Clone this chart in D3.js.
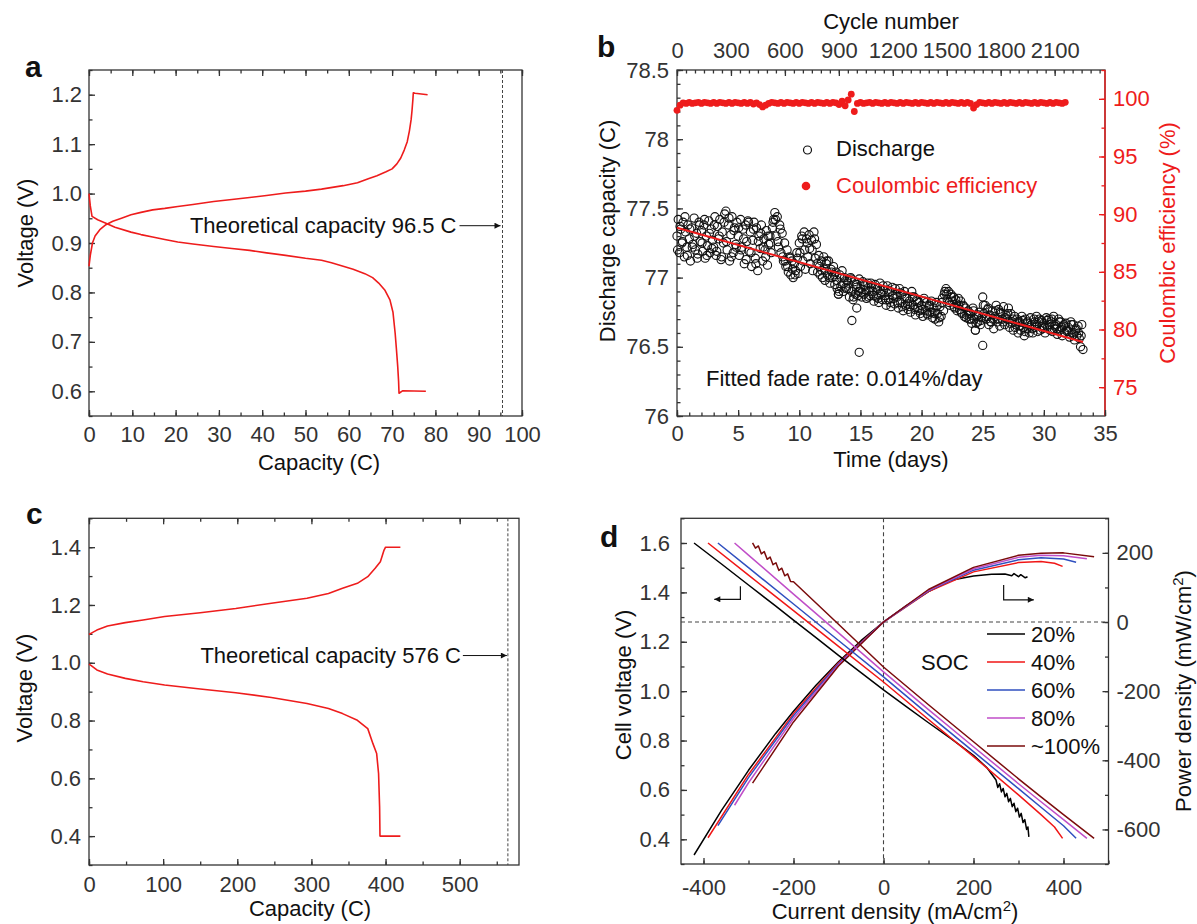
<!DOCTYPE html>
<html>
<head>
<meta charset="utf-8">
<script src="https://cdn.jsdelivr.net/npm/d3@7"></script>
<style>
  body { margin: 0; background: #fff; }
  svg { display: block; }
</style>
</head>
<body>
<div id="chart"></div>
<script>
// ---------- panel a : charge / discharge, 96.5 C cell ----------
var capACharge  = [0, 0.3, 0.8, 1.4, 2.5, 3.9, 5.5, 7.5, 9.7, 12, 14.7, 17.5, 20.5, 24, 28.8, 33, 37.1, 41, 45.4, 50, 53.7, 58.7, 62, 64.5, 66.5, 68.6, 70, 71.1, 72, 72.8, 73.5, 74.0, 74.4, 74.6, 74.8, 74.9, 75.3, 78.2];
var voltACharge = [0.853, 0.875, 0.900, 0.914, 0.927, 0.937, 0.944, 0.950, 0.957, 0.962, 0.967, 0.970, 0.974, 0.978, 0.984, 0.988, 0.992, 0.996, 1.001, 1.005, 1.009, 1.016, 1.022, 1.030, 1.036, 1.044, 1.050, 1.060, 1.072, 1.088, 1.105, 1.127, 1.150, 1.168, 1.190, 1.204, 1.203, 1.200];
var capADischarge  = [0, 0.3, 0.7, 2, 3.9, 6, 9.7, 12, 14.7, 17.5, 20.5, 24, 28.8, 33, 37.1, 41, 45.4, 50, 53.7, 56, 58.7, 61, 63.7, 65.5, 66.9, 68.3, 69.5, 70.2, 70.7, 71.0, 71.3, 71.5, 71.6, 72.4, 77.8];
var voltADischarge = [1.000, 0.975, 0.954, 0.947, 0.940, 0.932, 0.922, 0.917, 0.912, 0.907, 0.902, 0.898, 0.893, 0.889, 0.885, 0.880, 0.875, 0.869, 0.865, 0.860, 0.853, 0.847, 0.838, 0.830, 0.819, 0.805, 0.785, 0.760, 0.718, 0.685, 0.650, 0.620, 0.596, 0.601, 0.600];
var theoreticalA = 95.5;
var xTicksA = [0, 10, 20, 30, 40, 50, 60, 70, 80, 90, 100];
var yTicksA = [0.6, 0.7, 0.8, 0.9, 1.0, 1.1, 1.2];

// ---------- panel b : cycling ----------
var dischargeStep = 0.1; // days between plotted discharge points
var dischargeCap = [
  77.30,77.42,77.18,77.35,77.25,77.40,77.15,77.33,77.22,77.38,
  77.28,77.12,77.36,77.24,77.43,77.20,77.32,77.17,77.40,77.26,
  77.34,77.19,77.38,77.14,77.30,77.23,77.41,77.18,77.35,77.27,
  77.22,77.44,77.16,77.37,77.28,77.42,77.13,77.33,77.25,77.46,
  77.48,77.20,77.38,77.12,77.31,77.44,77.18,77.36,77.24,77.40,
  77.30,77.16,77.42,77.22,77.35,77.10,77.38,77.26,77.41,77.19,
  77.33,77.08,77.27,77.40,77.14,77.36,77.05,77.30,77.21,77.38,
  77.12,77.28,77.20,77.34,77.09,77.24,77.30,77.18,77.36,77.42,
  77.47,77.30,77.44,77.22,77.38,77.18,77.32,77.12,77.25,77.08,
  77.20,77.04,77.15,77.02,77.12,77.00,77.10,77.05,77.18,77.03,
  77.25,77.08,77.30,77.12,77.33,77.06,77.28,77.15,77.31,77.10,
  77.27,77.05,77.33,77.14,77.24,77.04,77.16,77.02,77.12,77.00,
  77.15,76.98,77.10,77.02,77.12,76.96,77.06,77.00,77.08,76.95,
  77.04,76.92,76.88,77.02,76.94,77.05,76.90,77.00,76.93,76.98,
  76.96,76.86,77.00,76.90,76.84,76.97,76.88,76.95,76.87,76.99,
  76.92,76.86,76.97,76.88,76.94,76.85,76.96,76.90,76.87,76.93,
  76.90,76.83,76.95,76.86,76.92,76.82,76.96,76.88,76.84,76.91,
  76.87,76.80,76.94,76.84,76.90,76.79,76.93,76.85,76.81,76.88,
  76.86,76.78,76.92,76.82,76.88,76.76,76.90,76.80,76.85,76.77,
  76.83,76.75,76.90,76.80,76.86,76.73,76.84,76.78,76.82,76.74,
  76.80,76.72,76.85,76.76,76.82,76.73,76.79,76.75,76.83,76.71,
  76.78,76.70,76.82,76.74,76.68,76.79,76.72,76.85,76.76,76.90,
  76.92,76.84,76.90,76.80,76.88,76.83,76.86,76.78,76.84,76.76,
  76.85,76.77,76.83,76.74,76.80,76.72,76.78,76.73,76.76,76.70,
  76.74,76.67,76.78,76.70,76.62,76.72,76.68,76.75,76.66,76.71,
  76.86,76.74,76.80,76.70,76.77,76.66,76.73,76.68,76.76,76.63,
  76.72,76.80,76.68,76.77,76.65,76.74,76.70,76.79,76.66,76.73,
  76.70,76.78,76.64,76.74,76.68,76.62,76.72,76.66,76.70,76.60,
  76.68,76.62,76.72,76.64,76.58,76.70,76.63,76.67,76.60,76.71,
  76.66,76.60,76.70,76.64,76.72,76.61,76.68,76.62,76.69,76.63,
  76.67,76.60,76.71,76.64,76.70,76.62,76.68,76.61,76.72,76.65,
  76.66,76.59,76.70,76.62,76.68,76.58,76.65,76.60,76.67,76.61,
  76.64,76.57,76.68,76.60,76.66,76.55,76.62,76.58,76.65,76.56,
  76.50,76.66,76.48
];
// in-between cycles, sampled every 0.2 day starting at 0.05 day
var dischargeMidStep = 0.2, dischargeMidStart = 0.05;
var dischargeCapMid = [
  77.20,77.37,77.26,77.44,77.16, 77.35,77.22,77.30,77.14,77.38,
  77.25,77.42,77.16,77.32,77.21, 77.38,77.19,77.30,77.15,77.40,
  77.26,77.43,77.15,77.34,77.22, 77.36,77.20,77.28,77.13,77.40,
  77.18,77.35,77.10,77.26,77.32, 77.22,77.15,77.30,77.25,77.40,
  77.42,77.26,77.35,77.15,77.12, 77.08,77.14,77.06,77.02,77.14,
  77.18,77.28,77.20,77.25,77.21, 77.20,77.28,77.10,77.08,77.05,
  77.06,77.12,77.00,77.04,77.02, 76.98,76.90,77.00,76.96,76.92,
  76.92,76.99,76.86,76.93,76.90, 76.89,76.95,76.91,76.86,76.96,
  76.87,76.93,76.85,76.89,76.94, 76.84,76.91,76.82,76.87,76.92,
  76.82,76.89,76.79,76.86,76.81, 76.79,76.86,76.77,76.83,76.76,
  76.77,76.83,76.74,76.80,76.75, 76.74,76.80,76.71,76.82,76.88,
  76.88,76.82,76.86,76.79,76.81, 76.80,76.75,76.79,76.71,76.74,
  76.70,76.76,76.67,76.73,76.69, 76.80,76.72,76.78,76.68,76.70,
  76.76,76.70,76.75,76.68,76.71, 76.74,76.67,76.70,76.64,76.68,
  76.65,76.69,76.61,76.68,76.64, 76.63,76.68,76.66,76.70,76.65,
  76.64,76.69,76.66,76.70,76.63, 76.63,76.68,76.64,76.66,76.62,
  76.61,76.66,76.59,76.63,76.60, 76.58
];
var outlierDays = [13.2, 14.3, 14.7, 14.9, 24.4, 25.0];
var outlierCaps = [76.88, 76.69, 76.78, 76.46, 76.62, 76.51];
var ceStep = 0.25;
var ceValues = [
  99.00,99.45,99.65,99.60, 99.70,99.60,99.65,99.70, 99.60,99.70,99.65,99.60, 99.70,99.60,99.70,99.65,
  99.60,99.70,99.60,99.70, 99.65,99.60,99.70,99.60, 99.70,99.55,99.65,99.50, 99.30,99.45,99.60,99.70,
  99.65,99.60,99.70,99.60, 99.70,99.65,99.60,99.70, 99.60,99.70,99.65,99.60, 99.70,99.60,99.70,99.65,
  99.60,99.70,99.60,99.70, 99.65,99.50,99.80,99.40, 99.90,100.40,98.90,99.60, 99.70,99.60,99.65,99.70,
  99.60,99.70,99.65,99.60, 99.70,99.60,99.70,99.65, 99.60,99.70,99.60,99.70, 99.65,99.60,99.70,99.60,
  99.70,99.65,99.60,99.70, 99.60,99.70,99.65,99.60, 99.70,99.60,99.70,99.65, 99.60,99.70,99.60,99.70,
  99.60,99.20,99.50,99.70, 99.65,99.60,99.70,99.60, 99.70,99.65,99.60,99.70, 99.60,99.70,99.65,99.60,
  99.70,99.60,99.70,99.65, 99.60,99.70,99.60,99.70, 99.65,99.60,99.70,99.60, 99.70,99.65,99.60,99.70
];
var fitDays = [0, 33.2];
var fitCap = [77.36, 76.535];
var dayTicks = [0, 5, 10, 15, 20, 25, 30, 35];
var cycleTicks = [0, 300, 600, 900, 1200, 1500, 1800, 2100];
var capTicksB = [76, 76.5, 77, 77.5, 78, 78.5];
var ceTicks = [75, 80, 85, 90, 95, 100];

// ---------- panel c : charge / discharge, 576 C cell ----------
var capCCharge  = [0, 5, 10.6, 25, 49, 73, 102, 150, 198, 246, 294, 323, 342, 362, 376, 386, 393, 398, 400, 420];
var voltCCharge = [1.098, 1.105, 1.113, 1.127, 1.139, 1.148, 1.160, 1.173, 1.188, 1.206, 1.223, 1.240, 1.258, 1.275, 1.298, 1.327, 1.350, 1.390, 1.400, 1.400];
var capCDischarge  = [0, 3, 10.6, 25, 49, 73, 102, 150, 198, 246, 294, 323, 342, 362, 376, 383, 388, 390.6, 392, 392.5, 420];
var voltCDischarge = [0.995, 0.990, 0.975, 0.961, 0.946, 0.934, 0.923, 0.909, 0.896, 0.880, 0.859, 0.842, 0.824, 0.801, 0.772, 0.720, 0.686, 0.616, 0.500, 0.400, 0.400];
var theoreticalC = 565;
var xTicksC = [0, 100, 200, 300, 400, 500];
var yTicksC = [0.4, 0.6, 0.8, 1.0, 1.2, 1.4];

// ---------- panel d : polarization and power ----------
var socLabels = ["20%", "40%", "60%", "80%", "~100%"];
var socColors = ["#000000", "#f01616", "#2f4fbf", "#c04ec8", "#7a0b0b"];
var soc20Current = [-421,-360,-300,-240,-200,-150,-100,-50,0,50,100,150,200,230,250,254,258,262,266,270,274,278,282,286,290,294,298,302,306,310,314,318,321,323];
var soc20Voltage = [1.600,1.515,1.430,1.345,1.288,1.217,1.145,1.075,1.005,0.938,0.872,0.808,0.740,0.690,0.640,0.610,0.625,0.592,0.606,0.572,0.586,0.552,0.566,0.532,0.546,0.512,0.526,0.490,0.505,0.468,0.480,0.440,0.450,0.410];
var soc20PowerCurrent = [-421,-360,-300,-240,-200,-150,-100,-50,0,50,100,150,200,240,270,285,290,300,305,315,320];
var soc20Power = [-674,-545,-429,-323,-258,-183,-115,-54,0,47,88,121,133,138,139,134,140,131,137,128,131];
var soc40Current = [-390,-300,-200,-100,0,100,200,300,350,380,398];
var soc40Voltage = [1.600,1.470,1.326,1.181,1.037,0.885,0.735,0.580,0.500,0.450,0.404];
var soc40Power = [-624,-441,-265,-118,0,88,145,172,175,170,161];
var soc60Current = [-368,-300,-200,-100,0,100,200,300,350,400,428];
var soc60Voltage = [1.600,1.500,1.353,1.205,1.058,0.905,0.755,0.605,0.530,0.455,0.404];
var soc60Power = [-589,-450,-271,-121,0,90,150,180,186,182,173];
var soc80Current = [-331,-300,-200,-100,0,100,200,300,350,400,452];
var soc80Voltage = [1.600,1.551,1.393,1.236,1.078,0.925,0.775,0.625,0.552,0.480,0.404];
var soc80Power = [-530,-465,-279,-124,0,92,154,187,193,192,183];
var soc100Current = [-291,-284.5,-278,-271.5,-265,-258.5,-252,-245.5,-239,-232.5,-226,-219.5,-213,-206.5,-200,-100,0,100,200,300,350,400,468];
var soc100Voltage = [1.600,1.579,1.588,1.556,1.565,1.534,1.543,1.512,1.520,1.489,1.498,1.467,1.475,1.444,1.443,1.271,1.098,0.945,0.795,0.645,0.572,0.500,0.404];
var soc100PowerCurrent = [-291,-200,-100,0,100,200,300,350,400,468];
var soc100Power = [-466,-289,-127,0,94,158,193,199,200,189];
var xTicksD = [-400, -200, 0, 200, 400];
var yTicksD = [0.4, 0.6, 0.8, 1.0, 1.2, 1.4, 1.6];
var powerTicks = [-600, -400, -200, 0, 200];

var socSeries = [
  {vc: soc20Current, v: soc20Voltage, pc: soc20PowerCurrent, p: soc20Power},
  {vc: soc40Current, v: soc40Voltage, pc: soc40Current, p: soc40Power},
  {vc: soc60Current, v: soc60Voltage, pc: soc60Current, p: soc60Power},
  {vc: soc80Current, v: soc80Voltage, pc: soc80Current, p: soc80Power},
  {vc: soc100Current, v: soc100Voltage, pc: soc100PowerCurrent, p: soc100Power}
];

// ---------- drawing ----------
var RED = "#ee1c1c", AX = "#333", FONT = 22;
var FAMILY = '"Liberation Sans", Arial, Helvetica, sans-serif';

var svg = d3.select("#chart").append("svg")
    .attr("width", 1197)
    .attr("height", 924)
    .style("font-family", FAMILY);

var defs = svg.append("defs");
function arrowMarker(id, color) {
  defs.append("marker")
      .attr("id", id)
      .attr("viewBox", "0 0 10 10")
      .attr("refX", 10).attr("refY", 5)
      .attr("markerUnits", "userSpaceOnUse")
      .attr("markerWidth", 10).attr("markerHeight", 6)
      .attr("orient", "auto")
    .append("path")
      .attr("d", "M0,0 L10,5 L0,10 z")
      .attr("fill", color);
}
arrowMarker("arr", "#111");

function box(xs, ys) {
  svg.append("rect")
      .attr("x", xs.range()[0]).attr("y", ys.range()[1])
      .attr("width", xs.range()[1] - xs.range()[0])
      .attr("height", ys.range()[0] - ys.range()[1])
      .attr("fill", "none").attr("stroke", AX).attr("stroke-width", 1.3);
}

function ticks(orient, scale, pos, major, minor, fmt, pad, color) {
  color = color || AX;
  var mk = {bottom: d3.axisBottom, top: d3.axisTop, left: d3.axisLeft, right: d3.axisRight}[orient];
  var tr = (orient == "bottom" || orient == "top") ? "translate(0," + pos + ")" : "translate(" + pos + ",0)";
  var none = function() { return ""; };
  var gMin = svg.append("g").attr("transform", tr)
      .call(mk(scale).tickValues(minor).tickSize(-3.5).tickFormat(none));
  var gMaj = svg.append("g").attr("transform", tr)
      .call(mk(scale).tickValues(major).tickSize(-6).tickPadding(pad || 8).tickFormat(fmt || none));
  [gMin, gMaj].forEach(function(g) {
    g.select(".domain").remove();
    g.selectAll("line").attr("stroke", color).attr("stroke-width", 1.3);
    g.selectAll("text").attr("fill", color).attr("font-size", FONT).attr("font-family", FAMILY);
  });
}

function text(x, y, s, o) {
  o = o || {};
  var t = svg.append("text")
      .attr("x", x).attr("y", y)
      .attr("font-size", o.size || FONT)
      .attr("font-weight", o.bold ? "bold" : null)
      .attr("text-anchor", o.anchor || "start")
      .attr("fill", o.color || "#111")
      .text(s);
  return t;
}

function vtext(x, y, s, color) {
  return svg.append("text")
      .attr("transform", "translate(" + x + "," + y + ") rotate(-90)")
      .attr("text-anchor", "middle")
      .attr("dy", "0.35em")
      .attr("font-size", FONT)
      .attr("fill", color || "#111")
      .text(s);
}

function curve(xs, ys, xScale, yScale, color, w) {
  svg.append("path")
      .datum(d3.zip(xs, ys))
      .attr("fill", "none")
      .attr("stroke", color)
      .attr("stroke-width", w || 1.6)
      .attr("stroke-linejoin", "round")
      .attr("d", d3.line().x(function(d) { return xScale(d[0]); }).y(function(d) { return yScale(d[1]); }));
}

var f1 = d3.format(".1f");
var plain = function(d) { return String(d); }; // keeps the ASCII hyphen for negatives

// ===== panel a =====
var xA = d3.scaleLinear().domain([0, 100]).range([89, 522]);
var yA = d3.scaleLinear().domain([0.55, 1.25]).range([416, 70]);
box(xA, yA);
ticks("bottom", xA, 416, xTicksA, d3.range(0, 101, 5), plain, 10);
ticks("top", xA, 70, xTicksA, d3.range(0, 101, 5));
ticks("left", yA, 89, yTicksA, d3.range(0.55, 1.26, 0.05), f1, 7);
svg.append("line")
    .attr("x1", xA(theoreticalA)).attr("x2", xA(theoreticalA))
    .attr("y1", yA.range()[1]).attr("y2", yA.range()[0])
    .attr("stroke", "#444").attr("stroke-width", 1).attr("stroke-dasharray", "3,2");
curve(capACharge, voltACharge, xA, yA, RED);
curve(capADischarge, voltADischarge, xA, yA, RED);
text(xA(theoreticalA) - 46, yA(0.935) + 7.6, "Theoretical capacity 96.5 C", {anchor: "end"});
svg.append("line")
    .attr("x1", xA(theoreticalA) - 43).attr("x2", xA(theoreticalA) - 2)
    .attr("y1", yA(0.935)).attr("y2", yA(0.935))
    .attr("stroke", "#111").attr("stroke-width", 1)
    .attr("marker-end", "url(#arr)");
text(25, 77, "a", {size: 30, bold: true});
vtext(25, 233, "Voltage (V)");
text(319, 470, "Capacity (C)", {anchor: "middle"});

// ===== panel b =====
var xB = d3.scaleLinear().domain([0, 35]).range([677, 1105]);
var xCycle = d3.scaleLinear().domain([0, 2380]).range([677, 1105]);
var yB = d3.scaleLinear().domain([76, 78.5]).range([416, 70]);
var yCE = d3.scaleLinear().domain([72.5, 102.5]).range([416, 70]);
box(xB, yB);
svg.append("line")
    .attr("x1", 1105).attr("x2", 1105).attr("y1", 70).attr("y2", 416)
    .attr("stroke", RED).attr("stroke-width", 1.4);
ticks("bottom", xB, 416, dayTicks, d3.range(0, 36, 1), plain, 9);
ticks("top", xCycle, 70, cycleTicks, d3.range(0, 2380, 50), plain, 12);
ticks("left", yB, 677, capTicksB, d3.range(76, 78.55, 0.1), plain, 8);
ticks("right", yCE, 1105, ceTicks, d3.range(75, 102.6, 2.5), plain, 8, RED);

svg.append("g").selectAll("circle")
    .data(ceValues)
    .enter().append("circle")
      .attr("cx", function(d, i) { return xB(i * ceStep); })
      .attr("cy", function(d) { return yCE(d); })
      .attr("r", 3.4)
      .attr("fill", RED);

var dischargePoints = dischargeCap.map(function(c, i) { return [i * dischargeStep, c]; })
    .concat(dischargeCapMid.map(function(c, i) { return [dischargeMidStart + i * dischargeMidStep, c]; }))
    .concat(d3.zip(outlierDays, outlierCaps));

svg.append("g").selectAll("circle")
    .data(dischargePoints)
    .enter().append("circle")
      .attr("cx", function(d) { return xB(d[0]); })
      .attr("cy", function(d) { return yB(d[1]); })
      .attr("r", 4.1)
      .attr("fill", "none")
      .attr("stroke", "#111")
      .attr("stroke-width", 1.1);

curve(fitDays, fitCap, xB, yB, RED, 2);

svg.append("circle").attr("cx", 807.5).attr("cy", 150).attr("r", 4)
    .attr("fill", "none").attr("stroke", "#111").attr("stroke-width", 1.2);
text(836, 156, "Discharge");
svg.append("circle").attr("cx", 806).attr("cy", 186).attr("r", 4.3).attr("fill", RED);
text(836, 193, "Coulombic efficiency", {color: RED});
text(706, 386, "Fitted fade rate: 0.014%/day");

text(597, 57, "b", {size: 30, bold: true});
text(891, 29, "Cycle number", {anchor: "middle"});
text(891, 467, "Time (days)", {anchor: "middle"});
vtext(607, 231, "Discharge capacity (C)");
vtext(1167, 243, "Coulombic efficiency (%)", RED);

// ===== panel c =====
var xC = d3.scaleLinear().domain([0, 580]).range([89, 519]);
var yC = d3.scaleLinear().domain([0.3, 1.5]).range([865, 518.3]);
box(xC, yC);
ticks("bottom", xC, 865, xTicksC, d3.range(0, 580, 50), plain, 11);
ticks("top", xC, 518.3, xTicksC, d3.range(0, 580, 50));
ticks("left", yC, 89, yTicksC, d3.range(0.3, 1.51, 0.1), f1, 8);
svg.append("line")
    .attr("x1", xC(theoreticalC)).attr("x2", xC(theoreticalC))
    .attr("y1", yC.range()[1]).attr("y2", yC.range()[0])
    .attr("stroke", "#444").attr("stroke-width", 1).attr("stroke-dasharray", "3,2");
curve(capCCharge, voltCCharge, xC, yC, RED);
curve(capCDischarge, voltCDischarge, xC, yC, RED);
text(xC(theoreticalC) - 47, yC(1.025) + 7.6, "Theoretical capacity 576 C", {anchor: "end"});
svg.append("line")
    .attr("x1", xC(theoreticalC) - 45).attr("x2", xC(theoreticalC) - 1)
    .attr("y1", yC(1.025)).attr("y2", yC(1.025))
    .attr("stroke", "#111").attr("stroke-width", 1)
    .attr("marker-end", "url(#arr)");
text(26, 524, "c", {size: 30, bold: true});
vtext(24, 688, "Voltage (V)");
text(310, 916, "Capacity (C)", {anchor: "middle"});

// ===== panel d =====
var xD = d3.scaleLinear().domain([-450, 500]).range([681, 1108.5]);
var yD = d3.scaleLinear().domain([0.3, 1.7]).range([864, 518.3]);
var yP = d3.scaleLinear().domain([-700, 300]).range([864, 518.3]);
box(xD, yD);
ticks("bottom", xD, 864, xTicksD, d3.range(-400, 501, 100), plain, 15);
ticks("left", yD, 681, yTicksD, d3.range(0.3, 1.71, 0.1), f1, 11);
ticks("right", yP, 1108.5, powerTicks, d3.range(-700, 301, 100), plain, 8);

svg.append("line")
    .attr("x1", xD(0)).attr("x2", xD(0)).attr("y1", 518.3).attr("y2", 864)
    .attr("stroke", "#444").attr("stroke-width", 1.1).attr("stroke-dasharray", "4,3");
svg.append("line")
    .attr("x1", 681).attr("x2", 1108.5).attr("y1", yP(0)).attr("y2", yP(0))
    .attr("stroke", "#444").attr("stroke-width", 1.1).attr("stroke-dasharray", "4,3");

socSeries.forEach(function(s, i) {
  curve(s.pc, s.p, xD, yP, socColors[i], 1.5);
});
socSeries.forEach(function(s, i) {
  curve(s.vc, s.v, xD, yD, socColors[i], 1.5);
});

// bracket arrows pointing to each y axis
svg.append("path")
    .attr("d", "M" + xD(-318) + "," + yD(1.425) + "V" + yD(1.372) + "H" + xD(-376))
    .attr("fill", "none").attr("stroke", "#111").attr("stroke-width", 1.2)
    .attr("marker-end", "url(#arr)");
svg.append("path")
    .attr("d", "M" + xD(267) + "," + yD(1.43) + "V" + yD(1.37) + "H" + xD(334))
    .attr("fill", "none").attr("stroke", "#111").attr("stroke-width", 1.2)
    .attr("marker-end", "url(#arr)");

socLabels.forEach(function(lab, i) {
  var y = 634 + i * 28;
  svg.append("line").attr("x1", 987).attr("x2", 1025).attr("y1", y).attr("y2", y)
      .attr("stroke", socColors[i]).attr("stroke-width", 1.6);
  text(1031, y + 8, lab);
});
text(921, 670, "SOC");

text(600, 547, "d", {size: 30, bold: true});
vtext(623, 685, "Cell voltage (V)");

var tx = text(895, 919, "Current density (mA/cm", {anchor: "middle"});
tx.append("tspan").attr("dy", -8).attr("font-size", 15).text("2");
tx.append("tspan").attr("dy", 8).text(")");

var tp = svg.append("text")
    .attr("transform", "translate(1183,691) rotate(-90)")
    .attr("text-anchor", "middle")
    .attr("dy", "0.35em")
    .attr("font-size", FONT)
    .attr("fill", "#111")
    .text("Power density (mW/cm");
tp.append("tspan").attr("dy", -8).attr("font-size", 15).text("2");
tp.append("tspan").attr("dy", 8).text(")");
</script>
</body>
</html>
